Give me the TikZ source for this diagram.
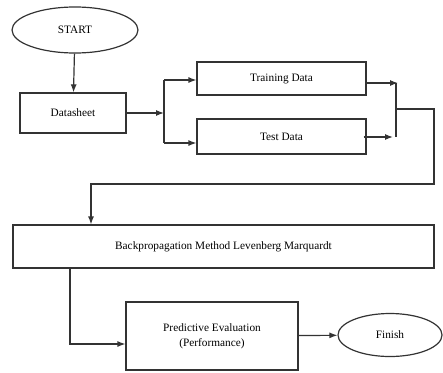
\documentclass[tikz,border=0pt]{standalone}
\usepackage{fontspec}
\setmainfont{Liberation Serif}
\usetikzlibrary{shapes.geometric, arrows.meta}

\begin{document}
\begin{tikzpicture}[x=1pt, y=-1pt, >={Latex[length=8pt, width=6pt]},
    every node/.style={font=\fontsize{11.3}{15}\selectfont},
    line/.style={line width=1.2pt, draw=black!80},
    block/.style={line, rectangle, align=center},
    term/.style={line, ellipse}]

\useasboundingbox (0,0) rectangle (443,372);

% Blocks
\node[term, minimum width=126, minimum height=46] (start) at (75,30) {START};
\node[block, minimum width=106, minimum height=40] (data) at (73,113) {Datasheet};
\node[block, minimum width=169, minimum height=33] (train) at (281.5,78.5) {Training Data};
\node[block, minimum width=169, minimum height=35] (test) at (281.5,136.5) {Test Data};
\node[block, minimum width=421, minimum height=43] (bp) at (223.5,246.5) {Backpropagation Method Levenberg Marquardt};
\node[block, minimum width=172, minimum height=68] (eval) at (212,336) {Predictive Evaluation\\(Performance)};
\node[term, minimum width=104, minimum height=43] (finish) at (390,335) {Finish};

% Junctions
\coordinate (split) at (164,113);
\coordinate (s1) at (164,80);
\coordinate (s2) at (164,143);
\coordinate (m1) at (396,83);
\coordinate (m2) at (396,137);
\coordinate (m3) at (396,109);
\coordinate (loop) at (434,184);
\coordinate (drop) at (91,184);
\coordinate (down) at (70,344);

% Connectors
\draw[line, ->] (start) -- (data);
\draw[line, ->] (data) -- (split);
\draw[line] (s1) -- (s2);
\draw[line, ->] (s1) -- (train.west |- s1);
\draw[line, ->] (s2) -- (test.west |- s2);
\draw[line, ->] (train.east |- m1) -- ([xshift=2]m1);
\draw[line, ->] ([xshift=-3]test.east |- m2) -- ([xshift=-3]m2);
\draw[line] (m1) -- (m2);
\draw[line, ->] (m3) -| (loop) -- (drop) -- (drop |- bp.north);
\draw[line, ->] (bp.south -| down) |- (eval.west |- down);
\draw[line, ->] (eval) -- (finish);

\end{tikzpicture}
\end{document}
